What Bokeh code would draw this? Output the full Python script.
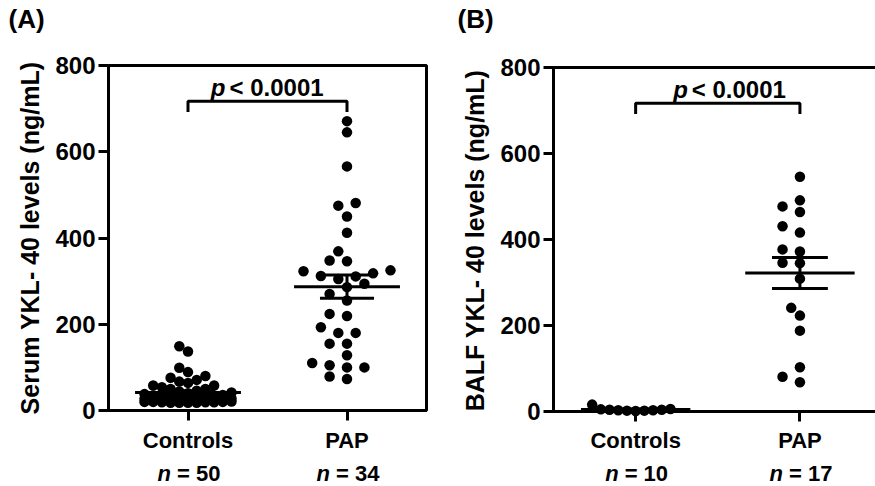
import math
import numpy as np
from bokeh.plotting import figure
from bokeh.layouts import row, column
from bokeh.models import FixedTicker, Range1d
from bokeh.core.properties import value
from bokeh.embed import file_html
from bokeh.resources import INLINE

# ---------------- data ----------------
categories = ["Controls", "PAP"]
y_ticks = [0, 200, 400, 600, 800]

serum_controls = [149, 137, 99, 89, 80, 76, 71, 67, 64, 58, 58, 54, 50, 50,
                  46, 44, 42, 40, 38, 36, 35, 34, 33, 32, 31, 30, 29, 28, 28,
                  27, 26, 25, 25, 24, 23, 23, 22, 22, 21, 21, 20, 20, 20, 19,
                  19, 19, 18, 18, 18, 18]
serum_pap = [671, 645, 566, 481, 475, 450, 412, 369, 348, 346, 325, 323, 318,
             312, 311, 305, 294, 286, 270, 255, 224, 219, 193, 180, 180, 155,
             155, 128, 110, 105, 100, 100, 79, 73]
balf_controls = [2, 5, 3, 4, 2, 3, 1, 4, 6, 16]
balf_pap = [546, 491, 477, 464, 431, 416, 377, 372, 346, 345, 309, 241, 223,
            188, 103, 81, 68]

serum_n = ["50", "34"]
balf_n = ["10", "17"]
p_value_text = "< 0.0001"
serum_ylabel = "Serum YKL- 40 levels (ng/mL)"
balf_ylabel = "BALF YKL- 40 levels (ng/mL)"

FONT = value("Liberation Sans")
FONT_NAME = "Liberation Sans"
SLOT = 8.7  # px between horizontal dot slots
HEAD_H = 36
MAIN_H = 420
FOOT_H = 30


def beeswarm(vals, xpx, ypx, d, half_width):
    """x offsets (data units) on horizontal slots so that dots keep a px
    distance d; limited to +-half_width px, overflow goes to the least
    crowded slot."""
    vals = np.asarray(vals, dtype=float)
    order = np.argsort(vals, kind="stable")
    k = int(half_width // SLOT)
    grid = np.arange(-k, k + 1) * SLOT
    grid = grid[np.lexsort((grid, np.abs(grid)))]
    placed = []
    xs = np.zeros(len(vals))
    for i in order:
        y = vals[i] * ypx
        if not placed:
            c = 0.0
        else:
            P = np.array(placed)
            dist = np.sqrt((grid[:, None] - P[None, :, 0]) ** 2 +
                           (y - P[None, :, 1]) ** 2).min(axis=1)
            ok = np.nonzero(dist >= d)[0]
            c = grid[ok[0]] if len(ok) else grid[np.argmax(dist)]
        placed.append((c, y))
        xs[i] = c / xpx
    return xs


def style_axis(ax, tick_in, tick_out, line):
    ax.axis_line_width = 3
    ax.axis_line_color = "black" if line else None
    ax.major_tick_line_width = 3
    ax.major_tick_line_color = "black"
    ax.major_tick_in = tick_in
    ax.major_tick_out = tick_out
    ax.minor_tick_line_color = None
    ax.major_label_text_font = FONT_NAME
    ax.major_label_text_font_style = "bold"
    ax.major_label_text_color = "black"


def blank_fig(width, height, x_range, y_range, mbl, mbr):
    f = figure(width=width, height=height, x_range=x_range, y_range=y_range,
               x_axis_type=None, y_axis_type=None, title=None,
               output_backend="svg", toolbar_location=None, frame_align=False,
               min_border_left=mbl, min_border_right=mbr, min_border_top=0,
               min_border_bottom=0, outline_line_color=None)
    f.background_fill_color = "white"
    f.border_fill_color = "white"
    return f


def make_panel(groups, ylabel, letter, ns, width, mbl, mbr, x_range, y_range,
               mbt, mbb, spacings, widths, p_shift, boxed, letter_x,
               x_std, y_std, ylab_standoff):
    p = figure(width=width, height=MAIN_H, x_range=x_range, y_range=y_range,
               output_backend="svg", toolbar_location=None, frame_align=False,
               title=None, min_border_left=mbl, min_border_top=mbt,
               min_border_bottom=mbb, min_border_right=mbr)
    fw = width - mbl - mbr
    fh = MAIN_H - mbt - mbb
    xpx = fw / (x_range.end - x_range.start)
    ypx = fh / (y_range.end - y_range.start)

    p.xgrid.visible = False
    p.ygrid.visible = False
    p.background_fill_color = "white"
    p.border_fill_color = "white"
    xa = p.xaxis[0]
    ya = p.yaxis[0]
    if boxed:
        p.outline_line_color = "black"
        p.outline_line_width = 3
        p.outline_line_alpha = 1
        style_axis(xa, 0, 10, True)
        style_axis(ya, 0, 10, True)
    else:
        p.outline_line_color = None
        gap_x = round((-0.5 - x_range.start) * xpx)
        gap_y = round((0 - y_range.start) * ypx)
        style_axis(xa, gap_y, 10 - gap_y, False)
        style_axis(ya, gap_x, 10 - gap_x, False)
        # frame lines at the values 0 and 800 and at the left category edge
        p.line([x_range.end, -0.5, -0.5, x_range.end], [800, 800, 0, 0],
               line_width=3, color="black", line_join="miter")

    xa.ticker = FixedTicker(ticks=[0, 1])
    xa.major_label_overrides = {0: categories[0], 1: categories[1]}
    xa.major_label_text_font_size = "22px"
    xa.major_label_standoff = x_std

    ya.ticker = FixedTicker(ticks=y_ticks)
    ya.major_label_text_font_size = "24px"
    ya.major_label_standoff = y_std
    ya.axis_label = ylabel
    ya.axis_label_text_font = FONT_NAME
    ya.axis_label_text_font_style = "bold"
    ya.axis_label_text_font_size = "25px"
    ya.axis_label_text_color = "black"
    ya.axis_label_standoff = ylab_standoff

    for gi, vals in enumerate(groups):
        xs = gi + beeswarm(vals, xpx, ypx, spacings[gi], widths[gi])
        p.scatter(xs, vals, size=10.5, color="black", line_width=0)
        arr = np.asarray(vals, dtype=float)
        m = arr.mean()
        sem = arr.std(ddof=1) / math.sqrt(len(arr))
        p.segment(x0=[gi - 0.333], y0=[m], x1=[gi + 0.333], y1=[m],
                  line_width=3, color="black")
        p.segment(x0=[gi, gi - 0.17, gi - 0.17], y0=[m - sem, m + sem, m - sem],
                  x1=[gi, gi + 0.17, gi + 0.17], y1=[m + sem, m + sem, m - sem],
                  line_width=3, color="black")

    # significance bracket and p value
    p.line([0, 0, 1, 1], [692, 717, 717, 692], line_width=3, color="black")
    p.text(x=[0.5], y=[748], text=["p"], x_offset=p_shift - 2,
           text_align="right", text_baseline="middle", text_font=FONT,
           text_font_style="bold italic", text_font_size="24px",
           text_color="black")
    p.text(x=[0.5], y=[748], text=[p_value_text], x_offset=p_shift + 2,
           text_align="left", text_baseline="middle", text_font=FONT,
           text_font_style="bold", text_font_size="24px", text_color="black")

    # header with panel letter
    head = blank_fig(width, HEAD_H, Range1d(0, width), Range1d(0, HEAD_H), 0, 0)
    head.text(x=[letter_x], y=[HEAD_H - 18], text=[letter], text_align="left",
              text_baseline="middle", text_font=FONT, text_font_style="bold",
              text_font_size="26px", text_color="black")

    # footer with n labels below the categories
    foot = blank_fig(width, FOOT_H, x_range, Range1d(0, FOOT_H), mbl, mbr)
    foot.text(x=[0, 1], y=[13, 13], text=["n", "n"], x_offset=-17,
              text_align="right", text_baseline="middle", text_font=FONT,
              text_font_style="bold italic", text_font_size="22px",
              text_color="black")
    foot.text(x=[0, 1], y=[13, 13], text=["= " + ns[0], "= " + ns[1]],
              x_offset=-11, text_align="left", text_baseline="middle",
              text_font=FONT, text_font_style="bold", text_font_size="22px",
              text_color="black")
    return column(head, p, foot)


# Panel A: frame x 108..426, y 65..410 (value 0..800)
colA = make_panel([serum_controls, serum_pap], serum_ylabel, "(A)", serum_n,
                  width=445, mbl=108, mbr=19,
                  x_range=Range1d(-0.5, 1.5), y_range=Range1d(0, 800),
                  mbt=65 - HEAD_H, mbb=MAIN_H - (65 - HEAD_H) - 345,
                  spacings=[8.5, 11], widths=[48, 60],
                  p_shift=-40, boxed=True, letter_x=8,
                  x_std=7, y_std=3, ylab_standoff=8)
# Panel B: value 0 at y 411, 800 at y 67, category Controls at x 635
colB = make_panel([balf_controls, balf_pap], balf_ylabel, "(B)", balf_n,
                  width=430, mbl=102, mbr=0,
                  x_range=Range1d(-0.5366, 1.46), y_range=Range1d(-13.95, 809.3),
                  mbt=63 - HEAD_H, mbb=MAIN_H - (63 - HEAD_H) - 354,
                  spacings=[8.5, 11], widths=[60, 60],
                  p_shift=-28, boxed=False, letter_x=12,
                  x_std=6, y_std=3, ylab_standoff=8)

layout = row(colA, colB)
open("out.html", "w").write(file_html(layout, INLINE))
